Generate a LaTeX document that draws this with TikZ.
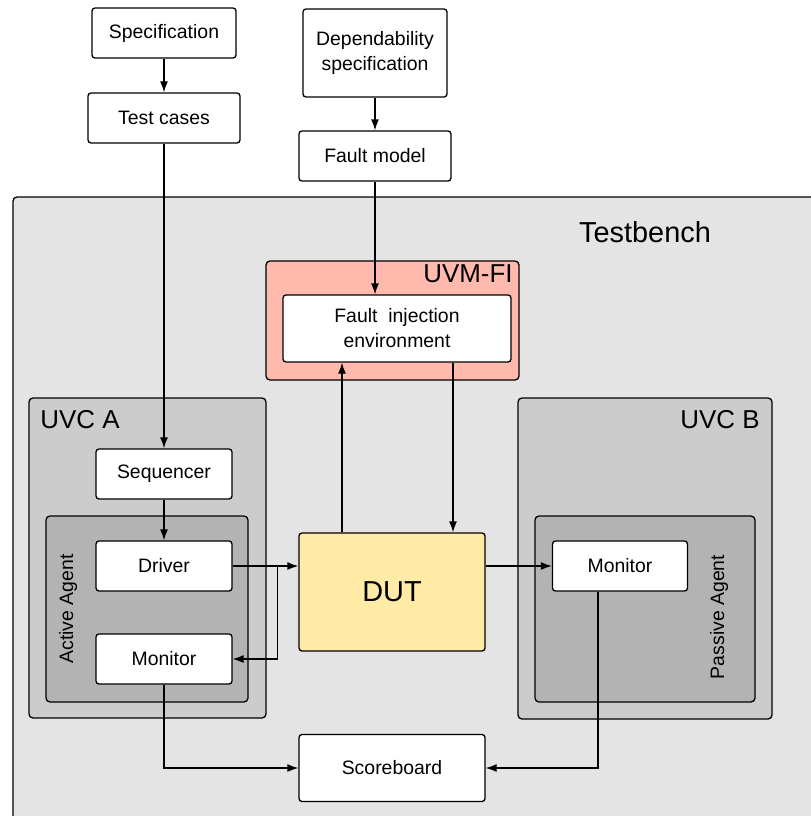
\documentclass[tikz,border=0pt]{standalone}
\usepackage{fontspec}
\setmainfont{Liberation Sans}
\usetikzlibrary{arrows.meta}
\definecolor{tbgray}{HTML}{E4E4E4}
\definecolor{uvcgray}{HTML}{CCCCCC}
\definecolor{agentgray}{HTML}{B3B3B3}
\definecolor{fired}{HTML}{FFB9AD}
\definecolor{dutyellow}{HTML}{FFEAA6}
\begin{document}
\begin{tikzpicture}[x=1bp, y=-1bp, line width=1.3bp, >={Latex[length=11bp,width=8bp]},
		blk/.style={draw, fill=white, rounded corners=3bp, inner sep=0, align=center, minimum height=50bp, font=\fontsize{19.5}{25}\selectfont},
		cont/.style={draw, rounded corners=4bp},
		big/.style={font=\fontsize{26}{30}\selectfont}]
		\clip (0,0) rectangle (811,816);
		\fill[white] (0,0) rectangle (811,816);
		% containers
		\draw[cont, fill=tbgray] (13,197) rectangle (830,830);
		\node[font=\fontsize{29}{32}\selectfont] (tblabel) at (645,232) {Testbench};
		\draw[cont, fill=fired] (266,261) rectangle (519,380);
		\node[big] (filabel) at (468,274) {UVM-FI};
		\draw[cont, fill=uvcgray] (29,398) rectangle (266,718);
		\node[big] (uvcalabel) at (80,420) {UVC A};
		\draw[cont, fill=agentgray] (46,516) rectangle (248,702);
		\node[rotate=90, font=\fontsize{19.5}{25}\selectfont] (actlabel) at (68,609) {Active Agent};
		\draw[cont, fill=uvcgray] (518,398) rectangle (772,719);
		\node[big] (uvcblabel) at (720,420) {UVC B};
		\draw[cont, fill=agentgray] (535,516) rectangle (755,702);
		\node[rotate=90, font=\fontsize{19.5}{25}\selectfont] (paslabel) at (719,617) {Passive Agent};
		% blocks
		\node[blk, minimum width=144bp] (spec) at (164,33) {Specification};
		\node[blk, minimum width=152bp] (tcases) at (164,118) {Test cases};
		\node[blk, minimum width=144bp, minimum height=88bp] (depspec) at (375,53) {Dependability\\specification};
		\node[blk, minimum width=152bp] (fmodel) at (375,156) {Fault model};
		\node[blk, minimum width=228bp, minimum height=67bp] (fie) at (397,328.5) {Fault~ injection\\environment};
		\node[blk, minimum width=136bp] (seq) at (164,474) {Sequencer};
		\node[blk, minimum width=136bp] (drv) at (164,566) {Driver};
		\node[blk, minimum width=136bp] (monA) at (164,659) {Monitor};
		\node[blk, minimum width=135bp] (monB) at (620,566) {Monitor};
		\node[blk, fill=dutyellow, minimum width=186bp, minimum height=118bp, font=\fontsize{29}{32}\selectfont] (dut) at (392,592) {DUT};
		\node[blk, minimum width=186bp, minimum height=67bp] (sb) at (392,768) {Scoreboard};
		% connections
		\draw[->] (spec) -- (tcases);
		\draw[->] (tcases) -- (seq);
		\draw[->] (depspec) -- (fmodel);
		\draw[->] (fmodel) -- (fmodel |- fie.north);
		\coordinate (fiin) at ([xshift=-50bp]dut.north);
		\draw[->] (fiin) -- (fiin |- fie.south);
		\coordinate (fiout) at ([xshift=56bp]fie.south);
		\draw[->] (fiout) -- (fiout |- dut.north);
		\draw[->] (seq) -- (drv);
		\draw[->] (drv.east) -- (drv.east -| dut.west);
		\draw[->] ([xshift=45bp]drv.east) |- (monA.east);
		\draw[->] (dut.east |- monB.west) -- (monB.west);
		\draw[->] (monA.south) |- (sb.west);
		\draw[->] ([xshift=-22bp]monB.south) |- (sb.east);
\end{tikzpicture}
\end{document}
